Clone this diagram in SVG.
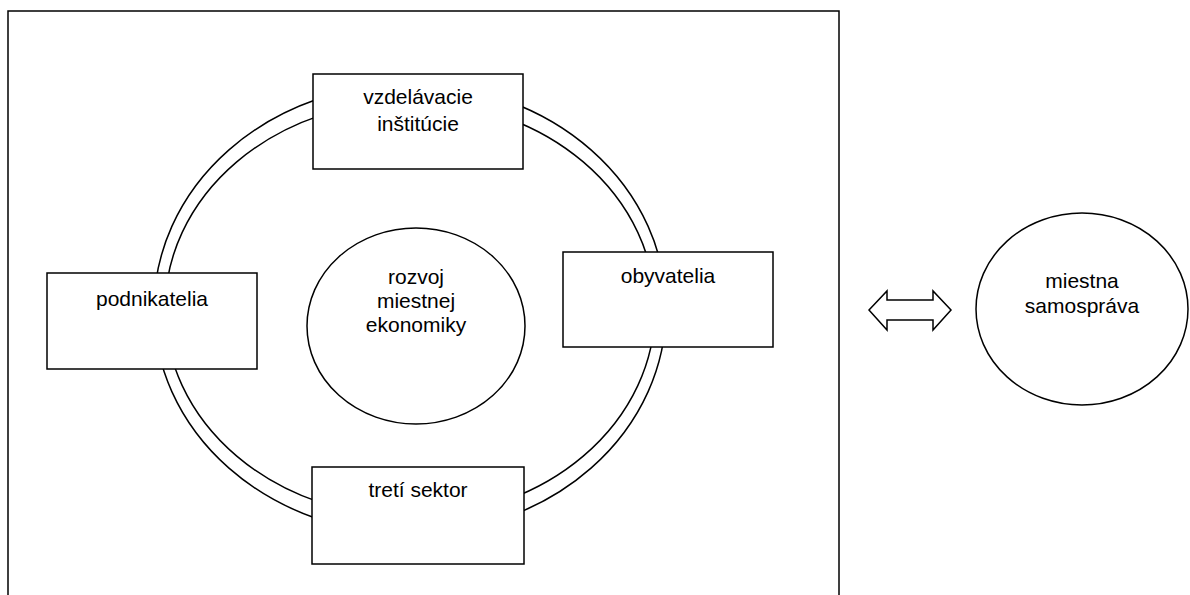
<svg xmlns="http://www.w3.org/2000/svg" width="1190" height="595" viewBox="0 0 1190 595">
<style>
.ln{fill:none;stroke:#000;stroke-width:1.5}
.bx{fill:#fff;stroke:#000;stroke-width:1.5}
.t{font-family:"Liberation Sans",Arial,sans-serif;font-size:21px;fill:#000;text-anchor:middle}
</style>
<rect width="1190" height="595" fill="#fff"/>
<rect id="frame" class="ln" x="8" y="11" width="831" height="600"/>
<g id="connectors">
<ellipse id="ring-outer" class="ln" cx="410" cy="309" rx="256" ry="225"/>
<ellipse id="ring-inner" class="ln" cx="410" cy="309" rx="245" ry="208"/>
<path id="double-arrow" class="bx" d="M869,310 L887,291 L887,300 L933,300 L933,291 L951,310 L933,330 L933,320 L887,320 L887,330 Z"/>
</g>
<g id="node-vzdelavacie">
<rect class="bx" x="313" y="74" width="210" height="95"/>
<text class="t" x="418" y="104">vzdelávacie</text>
<text class="t" x="418" y="131">inštitúcie</text>
</g>
<g id="node-podnikatelia">
<rect class="bx" x="47" y="273" width="210" height="96"/>
<text class="t" x="152" y="306">podnikatelia</text>
</g>
<g id="node-obyvatelia">
<rect class="bx" x="563" y="252" width="210" height="95"/>
<text class="t" x="668" y="283">obyvatelia</text>
</g>
<g id="node-treti-sektor">
<rect class="bx" x="312" y="467" width="212" height="97"/>
<text class="t" x="418" y="497">tretí sektor</text>
</g>
<g id="node-rozvoj">
<ellipse class="bx" cx="416" cy="326" rx="109" ry="98"/>
<text class="t" x="416" y="284">rozvoj</text>
<text class="t" x="416" y="308">miestnej</text>
<text class="t" x="416" y="332">ekonomiky</text>
</g>
<g id="node-samosprava">
<ellipse class="bx" cx="1082" cy="309" rx="106" ry="96"/>
<text class="t" x="1082" y="288">miestna</text>
<text class="t" x="1082" y="313">samospráva</text>
</g>
</svg>
